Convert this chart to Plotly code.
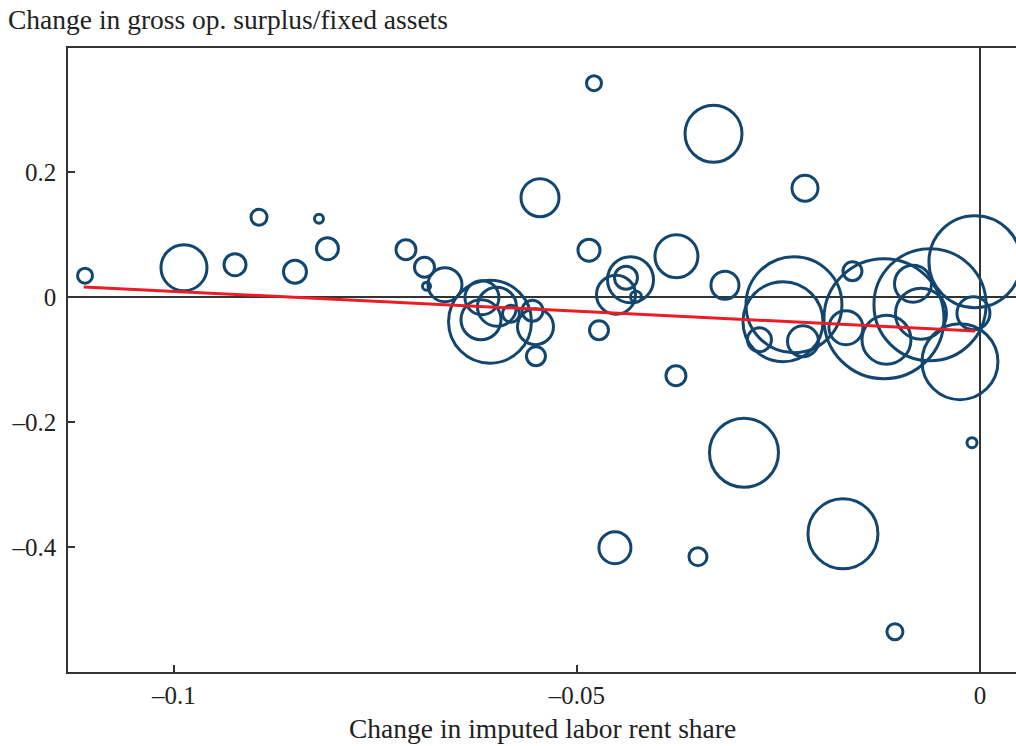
import plotly.graph_objects as go

# Industry-level changes (x: imputed labor rent share, y: gross op. surplus / fixed assets)
rent_share_change = [
    -0.11104, -0.09876, -0.09243, -0.08945, -0.08499, -0.08201, -0.08096, -0.07122,
    -0.06892, -0.06867, -0.06638, -0.06079, -0.06179, -0.06191, -0.05993, -0.05819,
    -0.05552, -0.05515, -0.05509, -0.05459, -0.04789, -0.04851, -0.04727, -0.04516,
    -0.04336, -0.04392, -0.04268, -0.04529, -0.03766, -0.03772, -0.03499, -0.03306,
    -0.03164, -0.02928, -0.02736, -0.02308, -0.02444, -0.02196, -0.02171, -0.01700,
    -0.01582, -0.01663, -0.01191, -0.01160, -0.00620, -0.00831, -0.00732, -0.01055,
    -0.00062, -0.00081, -0.00248, -0.00099,
]
surplus_change = [
    0.0344, 0.0472, 0.0520, 0.1280, 0.0408, 0.1256, 0.0776, 0.0760,
    0.0480, 0.0176, 0.0200, -0.0392, -0.0008, -0.0360, -0.0152, -0.0264,
    -0.0216, -0.0472, -0.0944, 0.1592, 0.3424, 0.0752, -0.0528, 0.0040,
    0.0280, 0.0312, 0.0008, -0.4008, 0.0656, -0.1256, -0.4152, 0.2616,
    0.0192, -0.2488, -0.0680, -0.0120, -0.0392, -0.0704, 0.1744, -0.3784,
    0.0416, -0.0488, -0.0344, -0.0680, -0.0120, 0.0216, -0.0264, -0.5352,
    0.0568, -0.0256, -0.1032, -0.2328,
]
industry_weight = [
    0.56, 5.29, 1.21, 0.64, 1.32, 0.20, 1.21, 1.00,
    1.00, 0.16, 2.89, 17.2, 2.89, 4.00, 3.80, 0.72,
    1.10, 3.24, 0.90, 3.61, 0.56, 1.21, 0.90, 3.80,
    5.29, 1.32, 0.30, 2.56, 4.62, 1.00, 0.81, 8.12,
    1.96, 11.9, 1.44, 23.0, 16.0, 2.40, 1.69, 12.25,
    0.90, 2.89, 36.0, 6.00, 31.4, 3.42, 6.50, 0.64,
    21.2, 2.72, 14.4, 0.25,
]

# Weighted fit line endpoints
fit_x = [-0.1112, -0.0006]
fit_y = [0.0165, -0.0539]

x_ticks = [-0.1, -0.05, 0]
x_labels = ["\u20130.1", "\u20130.05", "0"]
y_ticks = [0.2, 0, -0.2, -0.4]
y_labels = ["0.2", "0", "\u20130.2", "\u20130.4"]

SERIF = "Liberation Serif, Times New Roman, serif"
AXIS = "#333333"
TEXT = "#222222"

fig = go.Figure()
fig.add_trace(go.Scatter(
    x=rent_share_change, y=surplus_change, mode="markers",
    marker=dict(
        size=industry_weight, sizemode="area", sizeref=0.005, opacity=1,
        color="rgba(0,0,0,0)", line=dict(color="#12466e", width=3),
    ),
    showlegend=False, hoverinfo="skip",
))
fig.add_trace(go.Scatter(
    x=fit_x, y=fit_y, mode="lines",
    line=dict(color="#ec1c24", width=3),
    showlegend=False, hoverinfo="skip",
))

fig.update_layout(
    width=1016, height=746,
    margin=dict(l=68, r=0, t=48, b=74),
    paper_bgcolor="white", plot_bgcolor="white",
    font=dict(family=SERIF, size=25, color=TEXT),
    title=dict(
        text="Change in gross op. surplus/fixed assets",
        x=8 / 1016, xanchor="left", xref="container",
        y=1 - 19 / 746, yanchor="middle", yref="container",
        font=dict(family=SERIF, size=27.5, color=TEXT),
    ),
    xaxis=dict(
        range=[-0.11315, 0.00447],
        tickvals=x_ticks, ticktext=x_labels,
        ticks="inside", ticklen=7, tickwidth=1.5, tickcolor=AXIS,
        showline=True, linecolor=AXIS, linewidth=1.5, mirror=True,
        showgrid=False, zeroline=True, zerolinecolor=AXIS, zerolinewidth=1.5,
        tickfont=dict(family=SERIF, size=25, color=TEXT),
    ),
    yaxis=dict(
        range=[-0.5997, 0.3987],
        tickvals=y_ticks, ticktext=y_labels,
        ticks="inside", ticklen=7, tickwidth=1.5, tickcolor=AXIS,
        showline=True, linecolor=AXIS, linewidth=1.5,
        showgrid=False, zeroline=True, zerolinecolor=AXIS, zerolinewidth=1.5,
        ticklabelstandoff=5,
        tickfont=dict(family=SERIF, size=25, color=TEXT),
    ),
    annotations=[dict(
        text="Change in imputed labor rent share",
        xref="paper", yref="paper", x=0.5, y=(672 - 729) / 624,
        xanchor="center", yanchor="middle", showarrow=False,
        font=dict(family=SERIF, size=27.5, color=TEXT),
    )],
)

fig.write_html("out.html")
